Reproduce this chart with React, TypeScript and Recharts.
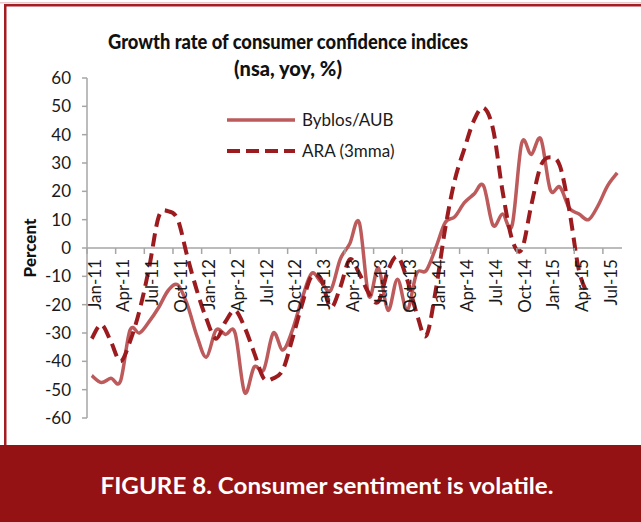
import React from "react";
import { LineChart, Line, XAxis, YAxis, ReferenceLine, Legend } from "recharts";

// monthly, Jan-11 .. Aug-15
const YEARS = ["11", "12", "13", "14", "15"];
const MONTHS = ["Jan", "Feb", "Mar", "Apr", "May", "Jun", "Jul", "Aug", "Sep", "Oct", "Nov", "Dec"];
const months: string[] = YEARS.flatMap((y) => MONTHS.map((m) => `${m}-${y}`)).slice(0, 56);

const byblos = [
  -45, -47.5, -46, -47, -29, -30, -26, -21, -15, -13,
  -20, -31, -38.5, -29, -30.5, -30, -51, -42, -43, -30,
  -36, -29, -18, -9, -12, -15, -4, 1.5, 9, -17,
  -7, -22, -11, -22, -9, -8, 0, 9, 11, 16,
  19, 22, 8, 12, 8, 37, 33, 38.5, 20.5, 21.5,
  14, 12, 10, 15, 22, 26.5,
];

const ara = [
  -32, -27, -33, -40, -33, -22, -7, 11, 13, 10,
  -3, -15, -25, -32, -26, -22, -28, -37, -46, -46,
  -43, -32, -20, -10, -11, -21, -14, -4, -9, -16,
  -19, -8, -3, -11, -23, -31, -15, 7, 24, 35,
  45, 49.5, 42, 20, 3, -0.5, 15, 29, 32, 29,
  13, -8, -17,
];

const yTicks = [-60, -50, -40, -30, -20, -10, 0, 10, 20, 30, 40, 50, 60];

const data = months.map((m, i) => ({
  month: m,
  byblos: byblos[i] ?? null,
  ara: ara[i] ?? null,
}));

const W = 641;
const CHART_H = 445;
const X_AXIS_H = 27;
const MARGIN = { top: 78, right: 19, bottom: 0, left: 20 };
const Y_AXIS_W = 67;
const PLOT_W = W - MARGIN.left - Y_AXIS_W - MARGIN.right;
const PLOT_H = CHART_H - MARGIN.top - MARGIN.bottom - X_AXIS_H;
const BAND = PLOT_W / months.length;
const ZERO_Y = MARGIN.top + PLOT_H / 2;

const FONT = 'Lato, "Open Sans", sans-serif';
const AXIS = "#a6a6a6";
const SOLID = "#bd5a5b";
const DASHED = "#9c1b1f";
const BRAND = "#941214";

// excel-like smoothing (catmull-rom through every point)
const smooth = (context: any) => {
  let pts: number[][] = [];
  return {
    areaStart() {},
    areaEnd() {},
    lineStart() {
      pts = [];
    },
    point(x: number, y: number) {
      pts.push([+x, +y]);
    },
    lineEnd() {
      const n = pts.length;
      if (!n) return;
      context.moveTo(pts[0][0], pts[0][1]);
      for (let i = 0; i < n - 1; i++) {
        const p0 = pts[i - 1] || pts[i];
        const p1 = pts[i];
        const p2 = pts[i + 1];
        const p3 = pts[i + 2] || p2;
        context.bezierCurveTo(
          p1[0] + (p2[0] - p0[0]) / 6,
          p1[1] + (p2[1] - p0[1]) / 6,
          p2[0] - (p3[0] - p1[0]) / 6,
          p2[1] - (p3[1] - p1[1]) / 6,
          p2[0],
          p2[1]
        );
      }
    },
  };
};

// x axis sits on the zero line, ticks between categories
const MonthTick = (props: any) => {
  const { x, payload } = props;
  const left = x - BAND / 2;
  const tx = x + 3;
  const ty = ZERO_Y + 11;
  return (
    <g>
      <line x1={left} x2={left} y1={ZERO_Y} y2={ZERO_Y + 6} stroke={AXIS} strokeWidth={1.5} />
      <text
        x={tx}
        y={ty}
        dy="0.35em"
        textAnchor="end"
        transform={`rotate(-90 ${tx} ${ty})`}
        fontSize={17}
        fontFamily={FONT}
        fill="#1a1a1a"
      >
        {payload.value}
      </text>
    </g>
  );
};

const LegendBox = () => {
  const rows = [
    { label: "Byblos/AUB", color: SOLID, dash: undefined, w: 3.5 },
    { label: "ARA (3mma)", color: DASHED, dash: "13 6", w: 4 },
  ];
  return (
    <div style={{ fontFamily: FONT, fontSize: 17, color: "#1a1a1a" }}>
      {rows.map((r) => (
        <div key={r.label} style={{ display: "flex", alignItems: "center", height: 31 }}>
          <svg width={74} height={10} style={{ marginRight: 3 }}>
            <line x1={2} x2={70} y1={5} y2={5} stroke={r.color} strokeWidth={r.w} strokeDasharray={r.dash} />
          </svg>
          <span>{r.label}</span>
        </div>
      ))}
    </div>
  );
};

export default function App() {
  return (
    <div style={{ position: "relative", width: W, height: 522, background: "#fff", overflow: "hidden" }}>
      <style>{"body{margin:0}"}</style>
      <svg width={W} height={522} style={{ position: "absolute", left: 0, top: 0 }}>
        <rect x={0} y={2} width={W} height={1.5} fill="#e9c9c9" />
        <rect x={4} y={4} width={W - 4} height={2.5} fill="#a31d22" />
        <rect x={4} y={4} width={2.5} height={441} fill="#a31d22" />
        <rect x={0} y={445} width={W} height={77} fill={BRAND} />
        <text x={288} y={49} textAnchor="middle" fontFamily={FONT} fontWeight={900} fontSize={20} fill="#111" textLength={360} lengthAdjust="spacingAndGlyphs">
          Growth rate of consumer confidence indices
        </text>
        <text x={288} y={76} textAnchor="middle" fontFamily={FONT} fontWeight={900} fontSize={20} fill="#111">
          (nsa, yoy, %)
        </text>
        <text x={327} y={494} textAnchor="middle" fontFamily={FONT} fontWeight={700} fontSize={23} fill="#fff" textLength={453} lengthAdjust="spacingAndGlyphs">
          FIGURE 8. Consumer sentiment is volatile.
        </text>
      </svg>
      <div style={{ position: "absolute", left: 0, top: 0 }}>
        <LineChart width={W} height={CHART_H} data={data} margin={MARGIN}>
          <XAxis
            dataKey="month"
            height={X_AXIS_H}
            interval={2}
            axisLine={false}
            tickLine={false}
            tick={<MonthTick />}
            padding={{ left: BAND / 2, right: BAND / 2 }}
          />
          <YAxis
            domain={[-60, 60]}
            ticks={yTicks}
            width={Y_AXIS_W}
            tickSize={5}
            tickMargin={11}
            axisLine={{ stroke: AXIS, strokeWidth: 1.5 }}
            tickLine={{ stroke: AXIS, strokeWidth: 1.5 }}
            tick={{ fontSize: 17, fontFamily: FONT, fill: "#1a1a1a" }}
            label={{
              value: "Percent",
              angle: -90,
              position: "insideLeft",
              offset: 10,
              style: { textAnchor: "middle", fontFamily: FONT, fontWeight: 900, fontSize: 17, fill: "#111" },
            }}
          />
          <ReferenceLine y={0} stroke={AXIS} strokeWidth={1.5} />
          <Legend
            layout="horizontal"
            verticalAlign="middle"
            align="center"
            content={<LegendBox />}
            wrapperStyle={{ left: 225, top: 104, width: "auto" }}
          />
          <Line
            dataKey="byblos"
            type={smooth as any}
            stroke={SOLID}
            strokeWidth={3.5}
            dot={false}
            isAnimationActive={false}
          />
          <Line
            dataKey="ara"
            type={smooth as any}
            stroke={DASHED}
            strokeWidth={4}
            strokeDasharray="13 7"
            dot={false}
            isAnimationActive={false}
          />
        </LineChart>
      </div>
    </div>
  );
}
